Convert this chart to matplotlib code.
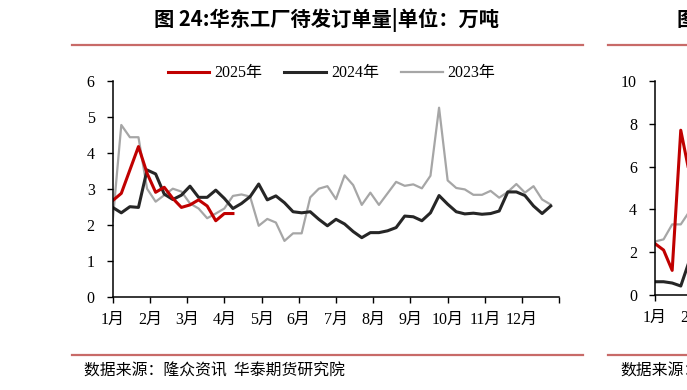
import numpy as np
import matplotlib
matplotlib.use('Agg')
import matplotlib.pyplot as plt
from matplotlib.lines import Line2D

plt.rcParams['font.family'] = ['Liberation Serif', 'Noto Sans CJK SC']

# weekly values, left chart (万吨)
y2025 = [2.67, 2.87, 3.52, 4.17, 3.43, 2.90, 3.04, 2.73, 2.48, 2.55, 2.69, 2.52, 2.11, 2.31, 2.31]
y2024 = [2.48, 2.33, 2.50, 2.48, 3.52, 3.41, 2.85, 2.70, 2.82, 3.07, 2.76, 2.76, 2.96, 2.73, 2.45, 2.59,
         2.78, 3.13, 2.69, 2.80, 2.61, 2.36, 2.33, 2.36, 2.15, 1.97, 2.15, 2.02, 1.81, 1.64, 1.78, 1.78,
         1.83, 1.92, 2.24, 2.22, 2.11, 2.33, 2.81, 2.57, 2.36, 2.30, 2.32, 2.29, 2.31, 2.38, 2.91, 2.91,
         2.81, 2.52, 2.31, 2.52]
y2023 = [2.10, 4.77, 4.43, 4.43, 3.00, 2.64, 2.82, 3.00, 2.92, 2.59, 2.45, 2.18, 2.31, 2.45, 2.80, 2.84,
         2.78, 1.97, 2.16, 2.06, 1.55, 1.76, 1.76, 2.76, 3.00, 3.07, 2.71, 3.37, 3.10, 2.55, 2.89, 2.55,
         2.87, 3.19, 3.08, 3.12, 3.01, 3.36, 5.25, 3.23, 3.02, 2.98, 2.83, 2.83, 2.94, 2.75, 2.91, 3.13,
         2.89, 3.07, 2.70, 2.56]

# right chart (only first weeks visible)
r2025 = [2.40, 2.10, 1.15, 7.70, 5.70]
r2024 = [0.62, 0.62, 0.56, 0.42, 1.60]
r2023 = [2.50, 2.60, 3.30, 3.30, 3.90]

months = ['1月', '2月', '3月', '4月', '5月', '6月', '7月', '8月', '9月', '10月', '11月', '12月', '']
legend_labels = ['2025年', '2024年', '2023年']

c25, c24, c23 = '#C00000', '#262626', '#A6A6A6'
line_c = '#C86A68'
cjk = ['Noto Sans CJK SC', 'DejaVu Sans']

fig = plt.figure(figsize=(6.87, 3.9), dpi=100)
W, H = 687, 390


def make_axes(x0, x1, y_bottom, y_top):
    return fig.add_axes([x0 / W, 1 - y_bottom / H, (x1 - x0) / W, (y_bottom - y_top) / H])


def style(ax, ymax, ystep, labels):
    ax.set_xlim(0, 52)
    ax.set_ylim(0, ymax)
    ax.set_yticks(np.arange(0, ymax + 0.01, ystep))
    ax.set_xticks(np.arange(13) * 52 / 12)
    ax.set_xticklabels(labels)
    for s in ['top', 'right']:
        ax.spines[s].set_visible(False)
    for s in ['left', 'bottom']:
        ax.spines[s].set_linewidth(1.1)
    ax.tick_params(axis='y', direction='out', length=4, width=1, pad=9, labelsize=11.5)
    ax.tick_params(axis='x', direction='out', length=4, width=1, pad=7, labelsize=11.5)


ax = make_axes(112.7, 559.3, 296.7, 80.7)
ax.plot(range(len(y2023)), y2023, color=c23, lw=1.6)
ax.plot(range(len(y2024)), y2024, color=c24, lw=2.2)
ax.plot(range(len(y2025)), y2025, color=c25, lw=2.2)
style(ax, 6, 1, months)

handles = [Line2D([], [], color=c25, lw=2.2), Line2D([], [], color=c24, lw=2.2),
           Line2D([], [], color=c23, lw=1.6)]
ax.legend(handles, legend_labels, ncol=3, loc='center', bbox_to_anchor=(0.49, 1.035),
          frameon=False, fontsize=11.5, handlelength=2.6, handletextpad=0.3, columnspacing=1.4)

ax2 = make_axes(655, 1101.6, 295, 81)
ax2.plot(range(len(r2023)), r2023, color=c23, lw=1.6)
ax2.plot(range(len(r2024)), r2024, color=c24, lw=2.2)
ax2.plot(range(len(r2025)), r2025, color=c25, lw=2.2)
style(ax2, 10, 2, ['1月', '2月'] + [''] * 11)

# titles, rules and source lines
fig.text(326 / W, 1 - 20 / H, '图 24:华东工厂待发订单量|单位：万吨', family=cjk, weight='bold',
         fontsize=14.6, ha='center', va='center')
fig.text(677 / W, 1 - 20 / H, '图', family=cjk, weight='bold', fontsize=14.6, ha='left', va='center')
for yy in [45, 355]:
    fig.add_artist(Line2D([72 / W, 583 / W], [1 - yy / H] * 2, color=line_c, lw=1.6))
    fig.add_artist(Line2D([608 / W, 1.0], [1 - yy / H] * 2, color=line_c, lw=1.6))
fig.text(84 / W, 1 - 371 / H, '数据来源：隆众资讯  华泰期货研究院', family=cjk, fontsize=11.4,
         ha='left', va='center')
fig.text(620 / W, 1 - 371 / H, '数据来源：', family=cjk, fontsize=11.4, ha='left', va='center')

fig.savefig('out.png', dpi=100)
